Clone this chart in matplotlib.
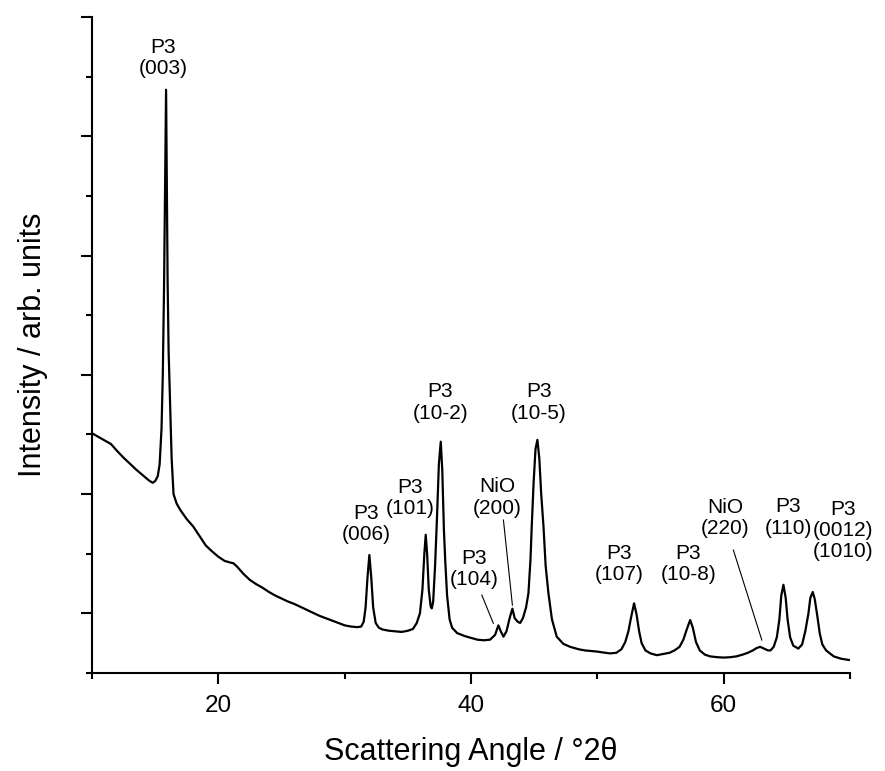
import matplotlib
matplotlib.use("Agg")
import matplotlib.pyplot as plt
from matplotlib.ticker import MultipleLocator

# diffractogram (2theta in degrees, intensity in arb. units)
two_theta = [
    10.0, 10.5, 11.0, 11.5, 12.0, 12.5, 13.0, 13.5, 14.0, 14.5, 14.8, 15.0, 15.2, 15.35,
    15.5, 15.6, 15.7, 15.78, 15.86, 15.92, 15.98, 16.06, 16.17, 16.3, 16.45, 16.7, 17.0,
    17.5, 18.0, 18.5, 19.0, 19.5, 20.0, 20.5, 21.0, 21.2, 21.5, 22.0, 22.5, 23.0, 23.5,
    24.0, 24.5, 25.0, 25.5, 26.0, 26.5, 27.0, 27.5, 28.0, 28.5, 29.0, 29.5, 30.0, 30.5,
    31.0, 31.3, 31.5, 31.65, 31.8, 31.95, 32.1, 32.25, 32.45, 32.7, 33.0, 33.5, 34.0,
    34.5, 35.0, 35.4, 35.7, 35.95, 36.15, 36.3, 36.41, 36.52, 36.65, 36.8, 36.89, 37.0,
    37.15, 37.3, 37.45, 37.6, 37.72, 37.85, 37.95, 38.1, 38.3, 38.5, 38.9, 39.5, 40.0,
    40.5, 41.0, 41.5, 41.9, 42.16, 42.35, 42.56, 42.8, 43.05, 43.27, 43.45, 43.7, 43.88,
    44.1, 44.35, 44.54, 44.7, 44.8, 44.95, 45.1, 45.25, 45.4, 45.55, 45.73, 45.9, 46.12,
    46.4, 46.78, 47.3, 47.84, 48.5, 49.0, 49.5, 50.0, 50.5, 51.0, 51.5, 51.9, 52.2,
    52.45, 52.65, 52.9, 53.1, 53.3, 53.5, 53.8, 54.2, 54.7, 55.2, 55.7, 56.1, 56.5,
    56.8, 57.05, 57.34, 57.55, 57.8, 58.1, 58.5, 58.92, 59.5, 60.0, 60.5, 61.0, 61.5,
    61.9, 62.3, 62.6, 62.88, 63.2, 63.5, 63.7, 63.95, 64.2, 64.4, 64.55, 64.72, 64.9,
    65.05, 65.25, 65.5, 65.9, 66.2, 66.45, 66.7, 66.85, 67.04, 67.2, 67.4, 67.6, 67.8,
    68.1, 68.7, 69.3, 69.9,
]
intensity = [
    2510, 2480, 2450, 2420, 2360, 2305, 2255, 2205, 2160, 2115, 2095, 2110, 2150, 2250,
    2550, 3000, 3750, 4600, 5390, 4600, 3800, 3200, 2800, 2300, 2000, 1920, 1865,
    1790, 1730, 1650, 1570, 1520, 1475, 1440, 1425, 1420, 1390, 1330, 1280, 1245, 1215,
    1180, 1150, 1125, 1100, 1080, 1055, 1030, 1005, 980, 960, 940, 920, 900, 890,
    885, 890, 930, 1050, 1300, 1490, 1300, 1050, 920, 880, 865, 855, 850,
    845, 855, 870, 920, 1000, 1200, 1500, 1660, 1500, 1200, 1060, 1042, 1100,
    1400, 1800, 2250, 2440, 2200, 1700, 1450, 1150, 950, 880, 835, 810, 795,
    780, 775, 780, 820, 900, 850, 805, 850, 960, 1040, 960, 930, 920,
    960, 1050, 1170, 1450, 1730, 2100, 2380, 2455, 2300, 2000, 1730, 1400, 1170,
    950, 805, 745, 720, 700, 690, 685, 680, 672, 665, 670, 700, 760,
    850, 960, 1085, 990, 850, 750, 690, 665, 650, 660, 670, 690, 720,
    780, 860, 945, 880, 760, 690, 655, 640, 633, 630, 633, 640, 655,
    670, 690, 710, 720, 705, 690, 690, 720, 800, 950, 1150, 1240, 1130,
    950, 800, 730, 705, 740, 850, 1000, 1130, 1180, 1120, 980, 830, 740,
    690, 640, 620, 610,
]

# peak labels: text, label centre (2theta, intensity)
labels = ["P3\n(003)", "P3\n(006)", "P3\n(101)", "P3\n(10-2)", "P3\n(104)", "NiO\n(200)",
          "P3\n(10-5)", "P3\n(107)", "P3\n(10-8)", "NiO\n(220)", "P3\n(110)",
          "P3\n(0012)\n(1010)"]
label_x = [15.64, 31.69, 35.17, 37.55, 40.24, 42.1, 45.38, 51.72, 57.18, 60.1, 65.09, 69.45]
label_y = [5653, 1749, 1965, 2768, 1372, 1971, 2768, 1414, 1414, 1800, 1804, 1695]

# leader lines for the weak reflections
leaders = [((40.85, 1154), (41.76, 917)),
           ((42.56, 1783), (43.27, 1070)),
           ((60.76, 1531), (63.01, 777))]

plt.rcParams['font.family'] = ['Liberation Sans', 'DejaVu Sans']

fig = plt.figure(figsize=(8.85, 7.71), dpi=100)
ax = fig.add_axes([0.104, 0.127, 0.8566, 0.851])

ax.plot(two_theta, intensity, color='black', linewidth=1.6)

for txt, x, y in zip(labels, label_x, label_y):
    ax.text(x, y, txt, ha='center', va='center', fontsize=15, linespacing=1.15)

for (x0, y0), (x1, y1) in leaders:
    ax.plot([x0, x1], [y0, y1], color='black', linewidth=0.8)

ax.set_xlim(10, 70)
ax.set_ylim(500, 6000)
ax.xaxis.set_major_locator(MultipleLocator(20))
ax.xaxis.set_minor_locator(MultipleLocator(10))
ax.yaxis.set_major_locator(MultipleLocator(1000))
ax.yaxis.set_minor_locator(MultipleLocator(500))
ax.set_yticklabels([])

for side in ['top', 'right']:
    ax.spines[side].set_visible(False)
for side in ['left', 'bottom']:
    ax.spines[side].set_linewidth(1.5)

ax.tick_params(which='major', direction='out', length=8, width=1.5, labelsize=17.5, pad=8)
ax.tick_params(which='minor', direction='out', length=4, width=1.5)

ax.set_xlabel('Scattering Angle / °2θ', fontsize=22, labelpad=14)
ax.set_ylabel('Intensity / arb. units', fontsize=22, labelpad=16)

fig.savefig('out.png', dpi=100)
